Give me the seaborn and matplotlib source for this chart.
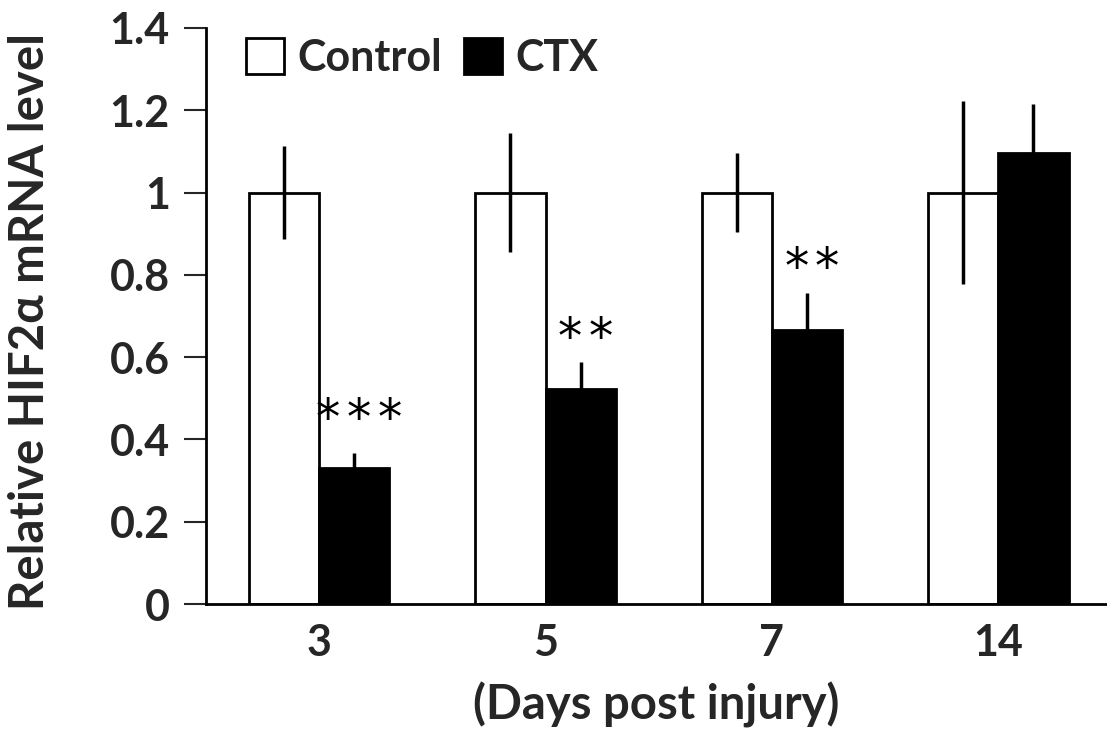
import numpy as np
import pandas as pd
import matplotlib
matplotlib.use("Agg")
import matplotlib.pyplot as plt
import seaborn as sns
from matplotlib.patches import Patch

days = ["3", "5", "7", "14"]
groups = ["Control", "CTX"]
control_mean = [1.0, 1.0, 1.0, 1.0]
control_err = [0.113, 0.145, 0.097, 0.222]
ctx_mean = [0.331, 0.523, 0.667, 1.097]
ctx_err = [0.036, 0.066, 0.090, 0.118]
stars = ["***", "**", "**", ""]
star_y = [0.465, 0.66, 0.83, 0.0]
ytick_labels = ["0", "0.2", "0.4", "0.6", "0.8", "1", "1.2", "1.4"]

sns.set_style("white")
plt.rcParams['font.family'] = ['Lato', 'DejaVu Sans']

df = pd.DataFrame({
    "day": days * 2,
    "group": ["Control"] * 4 + ["CTX"] * 4,
    "value": control_mean + ctx_mean,
})

fig = plt.figure(figsize=(11.07, 7.34), dpi=100)
ax = fig.add_axes([0.186, 0.177, 0.814, 0.785])

sns.barplot(data=df, x="day", y="value", hue="group", order=days,
            hue_order=groups, palette={"Control": "white", "CTX": "black"},
            edgecolor="black", linewidth=2, width=0.62, gap=0,
            errorbar=None, legend=False, ax=ax)

patches = [p for p in ax.patches if p.get_height() > 0]
for gi, g in enumerate(groups):
    means = control_mean if g == "Control" else ctx_mean
    errs = control_err if g == "Control" else ctx_err
    sub = patches[gi * len(days):(gi + 1) * len(days)]
    xs = [p.get_x() + p.get_width() / 2 for p in sub]
    ax.errorbar(xs, means, yerr=errs, fmt="none", ecolor="black",
                elinewidth=2.5, capsize=0, zorder=5)
    if g == "CTX":
        for x, s, sy in zip(xs, stars, star_y):
            n = len(s)
            for k, ch in enumerate(s):
                dx = (k - (n - 1) / 2) * 22
                ax.annotate(ch, (x + 0.02, sy), xytext=(dx, -5),
                            textcoords="offset points", ha="center", va="center",
                            fontsize=35, family="DejaVu Sans", color="black")

ax.set_ylim(0, 1.4)
ax.set_xlim(-0.5, 3.48)
ax.set_yticks(np.arange(0, 1.41, 0.2))
ax.set_yticklabels(ytick_labels)
ax.tick_params(axis="y", which="both", left=True, length=16, width=1.5,
               direction="out", labelsize=31, pad=10)
ax.tick_params(axis="x", bottom=False, labelsize=31, pad=10)
for lab in ax.get_xticklabels() + ax.get_yticklabels():
    lab.set_fontweight("bold")

sns.despine(ax=ax)
for s in ["left", "bottom"]:
    ax.spines[s].set_linewidth(2)
    ax.spines[s].set_color("black")

ax.set_xlabel("(Days post injury)", fontsize=34, fontweight="bold", labelpad=14)
ax.set_ylabel("Relative HIF2α mRNA level", fontsize=34, fontweight="bold")
ax.yaxis.set_label_coords(-0.171, 0.49)

handles = [Patch(facecolor="white", edgecolor="black", linewidth=2),
           Patch(facecolor="black", edgecolor="black", linewidth=2)]
leg = ax.legend(handles, groups, loc="center left", bbox_to_anchor=(0.025, 0.948),
                ncol=2, frameon=False, handlelength=0.9, handleheight=0.9,
                handletextpad=0.3, columnspacing=0.5, borderaxespad=0,
                prop={"family": "Lato", "weight": "bold", "size": 31})

fig.savefig("out.png", dpi=100)
